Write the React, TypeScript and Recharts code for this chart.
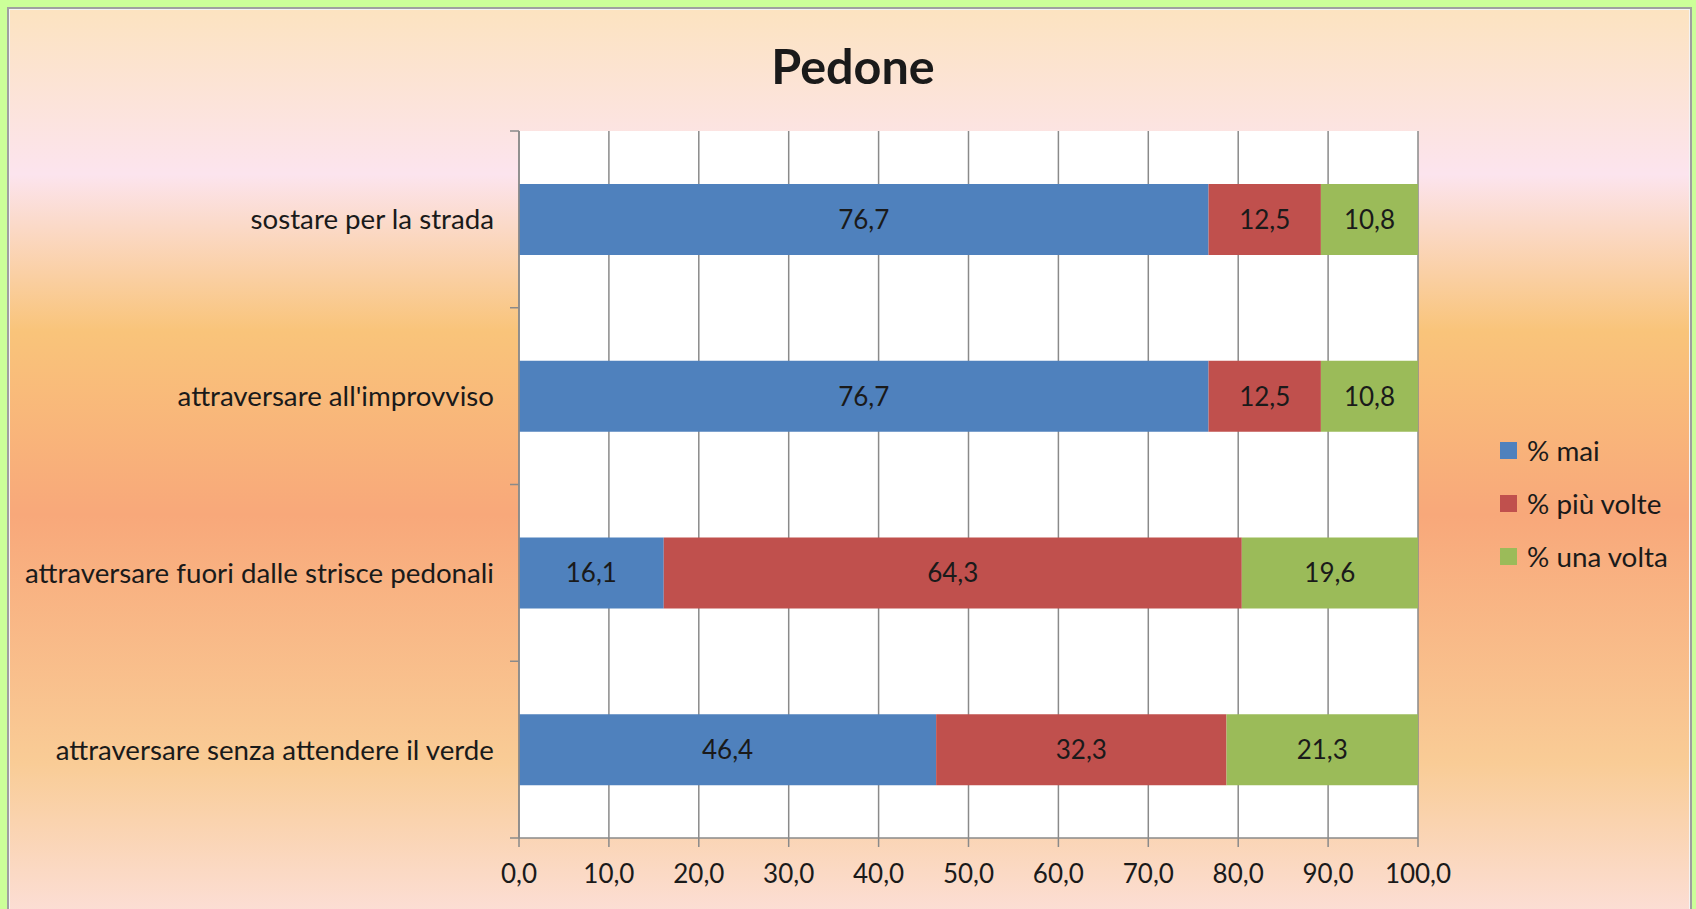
import React from "react";
import { BarChart, Bar, XAxis, YAxis, CartesianGrid, LabelList } from "recharts";

const categories = [
  "sostare per la strada",
  "attraversare all'improvviso",
  "attraversare fuori dalle strisce pedonali",
  "attraversare senza attendere il verde",
];
const mai = [76.7, 76.7, 16.1, 46.4];
const piuVolte = [12.5, 12.5, 64.3, 32.3];
const unaVolta = [10.8, 10.8, 19.6, 21.3];
const xTicks = [0, 10, 20, 30, 40, 50, 60, 70, 80, 90, 100];

const seriesKeys = ["mai", "piu", "una"];
const seriesNames = ["% mai", "% più volte", "% una volta"];
const seriesColors = ["#4f81bd", "#c0504d", "#9bbb59"];

const data = categories.map((name, i) => ({
  name,
  mai: mai[i],
  piu: piuVolte[i],
  una: unaVolta[i],
}));

const FONT = "Lato, 'Open Sans', sans-serif";
const INK = "#1a1a1a";
const AXIS = "#8a8a8a";

const fmt = (v: number) => Number(v).toFixed(1).replace(".", ",");

function CategoryTick(props: any) {
  const { x, y, payload, index, visibleTicksCount } = props;
  const half = payload?.offset || 88.5;
  const axisX = x + 25;
  return (
    <g>
      <line x1={axisX - 9} x2={axisX} y1={y - half} y2={y - half} stroke={AXIS} strokeWidth={1.5} />
      {index === visibleTicksCount - 1 && (
        <line x1={axisX - 9} x2={axisX} y1={y + half} y2={y + half} stroke={AXIS} strokeWidth={1.5} />
      )}
      <text
        x={x}
        y={y}
        dy="0.36em"
        textAnchor="end"
        fill={INK}
        fontSize={27.7}
        fontFamily={FONT}
      >
        {payload.value}
      </text>
    </g>
  );
}

function LegendBox() {
  return (
    <div
      style={{
        position: "absolute",
        left: 1500,
        top: 424,
        fontFamily: FONT,
        fontSize: 27.8,
        color: INK,
      }}
    >
      {seriesNames.map((n, i) => (
        <div key={n} style={{ display: "flex", alignItems: "center", height: 53 }}>
          <span
            style={{
              width: 17,
              height: 17,
              background: seriesColors[i],
              display: "inline-block",
              marginRight: 10,
            }}
          />
          <span>{n}</span>
        </div>
      ))}
    </div>
  );
}

export default function App() {
  return (
    <div
      style={{
        position: "fixed",
        left: 0,
        top: 0,
        width: 1696,
        height: 909,
        overflow: "hidden",
        background: "#ccff99",
        fontFamily: FONT,
      }}
    >
      <div
        style={{
          position: "absolute",
          left: 7,
          top: 7,
          width: 1681,
          height: 920,
          border: "2px solid #a0a0a0",
          boxShadow: "inset 0 0 0 1px #f4f4f4",
          background:
            "linear-gradient(to bottom, #fce3c0 0%, #fce4ee 18%, #f9c47a 35%, #f8a87a 55%, #f9cc96 82%, #fce0dc 100%)",
        }}
      />
      <div
        style={{
          position: "absolute",
          left: 653,
          top: 42,
          width: 400,
          textAlign: "center",
          fontSize: 48.5,
          lineHeight: "46px",
          fontWeight: 700,
          color: INK,
        }}
      >
        Pedone
      </div>
      <div style={{ position: "absolute", left: 0, top: 0 }}>
        <BarChart
          width={1696}
          height={909}
          data={data}
          layout="vertical"
          barCategoryGap="30%"
          margin={{ top: 131, right: 278, bottom: 11, left: 19 }}
        >
          <CartesianGrid
            horizontal={false}
            fill="#ffffff"
            stroke={AXIS}
            strokeWidth={1.5}
          />
          <XAxis
            type="number"
            domain={[0, 100]}
            ticks={xTicks}
            interval={0}
            tickFormatter={fmt}
            height={60}
            tickSize={9}
            tickMargin={18}
            axisLine={{ stroke: AXIS, strokeWidth: 1.5 }}
            tickLine={{ stroke: AXIS, strokeWidth: 1.5 }}
            tick={{ fill: INK, fontSize: 26, fontFamily: FONT }}
          />
          <YAxis
            type="category"
            dataKey="name"
            width={500}
            tickSize={9}
            tickMargin={16}
            tickLine={false}
            axisLine={{ stroke: AXIS, strokeWidth: 1.5 }}
            tick={<CategoryTick />}
            interval={0}
          />
          {seriesKeys.map((k, i) => (
            <Bar
              key={k}
              dataKey={k}
              name={seriesNames[i]}
              stackId="a"
              fill={seriesColors[i]}
              isAnimationActive={false}
            >
              <LabelList
                dataKey={k}
                position="center"
                formatter={(v: any) => fmt(v)}
                fill={INK}
                fontSize={26}
                fontFamily={FONT}
              />
            </Bar>
          ))}
        </BarChart>
      </div>
      <LegendBox />
    </div>
  );
}
